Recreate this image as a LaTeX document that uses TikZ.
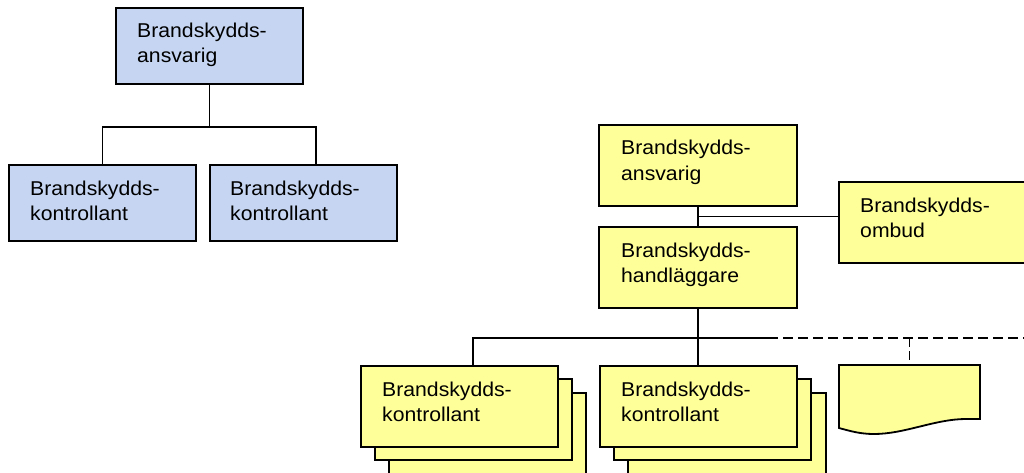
\documentclass[tikz,border=0pt]{standalone}
\usepackage{fontspec}
\setmainfont{Liberation Sans}[FakeStretch=1.06]
\usetikzlibrary{calc}
\definecolor{bluefill}{RGB}{198,214,242}
\definecolor{yelfill}{RGB}{255,255,153}
\begin{document}
\begin{tikzpicture}[x=1pt,y=-1pt,
  box/.style={draw=black, line width=1.8pt, rectangle, inner sep=0pt, outer sep=0pt, anchor=north west},
  bbox/.style={box, fill=bluefill},
  ybox/.style={box, fill=yelfill},
  txt/.style={anchor=base west, inner sep=0pt, text width=175pt, align=left, font=\fontsize{20}{25}\selectfont},
  conn/.style={line width=1.5pt},
  dconn/.style={line width=1.5pt, dash pattern=on 10pt off 5pt}]
\useasboundingbox (0,0) rectangle (1024,473);
% ---- left organisation ----
\node[bbox, minimum width=187pt, minimum height=76pt] (A) at (116,8) {};
\node[bbox, minimum width=187pt, minimum height=76pt] (B1) at (9,165) {};
\node[bbox, minimum width=187pt, minimum height=76pt] (B2) at (210,165) {};
\coordinate (b2top) at ($(B2.north west)+(106,0)$);
\draw[conn] (A.south) -- ++(0,43) coordinate (jA);
\draw[conn] (B1.north) |- (jA) -| (b2top);
\node[txt] (tA) at (137,38) {Brandskydds-\\ansvarig};
\node[txt] (tB1) at (30,195) {Brandskydds-\\kontrollant};
\node[txt] (tB2) at (230,195) {Brandskydds-\\kontrollant};
% ---- right organisation ----
\node[ybox, minimum width=198pt, minimum height=81pt] (C) at (599,125) {};
\node[ybox, minimum width=198pt, minimum height=81pt] (D) at (599,227) {};
\node[ybox, minimum width=200pt, minimum height=81pt] (E) at (839,182) {};
\draw[conn] (C.south) -- (D.north);
\coordinate (jC) at ($(C.south)!0.5!(D.north)$);
\draw[conn] (jC) -- (jC -| E.west);
% stacks
\node[ybox, minimum width=197pt, minimum height=90pt] (K1c) at (389,393) {};
\node[ybox, minimum width=197pt, minimum height=81pt] (K1b) at (375,379) {};
\node[ybox, minimum width=197pt, minimum height=81pt] (K1a) at (361,366) {};
\node[ybox, minimum width=198pt, minimum height=90pt] (K2c) at (628,393) {};
\node[ybox, minimum width=197pt, minimum height=81pt] (K2b) at (614,379) {};
\node[ybox, minimum width=197pt, minimum height=81pt] (K2a) at (600,366) {};
% document shape
\draw[line width=1.8pt, fill=yelfill] (839,365) coordinate (docNW) -- (980,365) -- (980,419) -- (966,419)
  .. controls (935,419) and (905,434) .. (874,434)
  .. controls (860,434) and (850,431) .. (839,428) -- cycle;
\coordinate (docN) at (909.5,365);
% connectors lower level
\draw[conn] (D.south) -- ++(0,30) coordinate (jD);
\coordinate (k1top) at ($(K1a.north west)+(112,0)$);
\draw[conn] (k1top) |- (jD) -- (jD |- K2a.north);
\draw[conn] (jD) -- ++(70,0) coordinate (dstart);
\coordinate (dend) at (1030,338);
\draw[dconn] (dstart) -- (dend |- dstart);
\draw[line width=1.5pt, dash pattern=on 9pt off 4pt] (docN |- jD) -- (docN);
% texts
\node[txt] (tC) at (621,155) {Brandskydds-\\ansvarig};
\node[txt] (tD) at (621,257) {Brandskydds-\\handläggare};
\node[txt] (tE) at (860,212) {Brandskydds-\\ombud};
\node[txt] (tK1) at (382,396) {Brandskydds-\\kontrollant};
\node[txt] (tK2) at (621,396) {Brandskydds-\\kontrollant};
\end{tikzpicture}
\end{document}
